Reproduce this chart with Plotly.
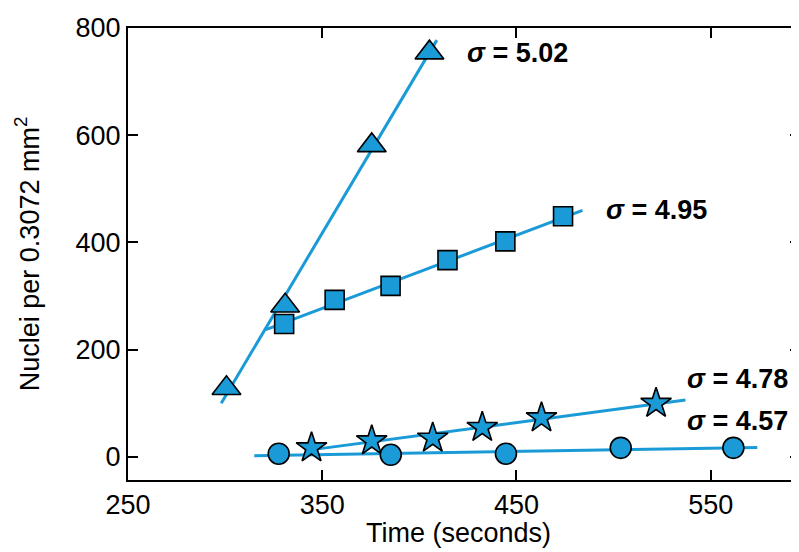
import numpy as np
import plotly.graph_objects as go

# ---- data ----
tri_x = [300.7, 330.9, 375.5, 405.2]
tri_y = [128, 282, 581, 754]
sq_x = [330.4, 356.4, 385.2, 414.5, 444.3, 474.0]
sq_y = [248, 293, 319, 367, 402, 449]
star_x = [344.5, 375.5, 406.9, 432.4, 462.9, 521.9]
star_y = [17, 30, 35, 55, 73, 100]
circ_x = [327.6, 385.3, 444.6, 503.7, 561.7]
circ_y = [6, 4, 6, 17, 17]

# extent of each fitted line (seconds)
tri_fit_span = [298, 409]
sq_fit_span = [321, 484]
star_fit_span = [344, 537]
circ_fit_span = [315, 574]

sigma_labels = ["<i>σ</i> = 5.02", "<i>σ</i> = 4.95", "<i>σ</i> = 4.78", "<i>σ</i> = 4.57"]
x_ticks = [250, 350, 450, 550]
y_ticks = [0, 200, 400, 600, 800]

BLUE = "#1a9bd7"
FONT = "Liberation Sans"
FS = 27

fig = go.Figure()

series = [
    (tri_x, tri_y, tri_fit_span, "triangle-up", 25),
    (sq_x, sq_y, sq_fit_span, "square", 19),
    (star_x, star_y, star_fit_span, "star", 23),
    (circ_x, circ_y, circ_fit_span, "circle", 21),
]

# fit lines first (beneath markers)
for xs, ys, span, sym, size in series:
    m, b = np.polyfit(xs, ys, 1)
    fx = np.array(span, dtype=float)
    fig.add_trace(go.Scatter(x=fx, y=m * fx + b, mode="lines",
                             line=dict(color=BLUE, width=3),
                             showlegend=False, hoverinfo="skip"))

for xs, ys, span, sym, size in series:
    fig.add_trace(go.Scatter(x=xs, y=ys, mode="markers",
                             marker=dict(symbol=sym, size=size, color=BLUE,
                                         line=dict(color="black", width=1.6)),
                             showlegend=False))

# sigma labels
label_pos = [(0.580, 0.945), (0.786, 0.598), (0.907, 0.224), (0.907, 0.130)]
for txt, (xp, yp) in zip(sigma_labels, label_pos):
    fig.add_annotation(x=xp, y=yp, xref="paper", yref="paper", text="<b>" + txt + "</b>",
                       showarrow=False, xanchor="center", yanchor="middle",
                       font=dict(family=FONT, size=FS, color="black"))

# axis titles
fig.add_annotation(x=0.492, y=-0.080, xref="paper", yref="paper", text="Time (seconds)",
                   showarrow=False, xanchor="center", yanchor="top",
                   font=dict(family=FONT, size=FS, color="black"))
fig.add_annotation(x=-0.150, y=0.5, xref="paper", yref="paper",
                   text="Nuclei per 0.3072 mm<sup>2</sup>", textangle=-90,
                   showarrow=False, xanchor="center", yanchor="middle",
                   font=dict(family=FONT, size=FS, color="black"))

axis_common = dict(showgrid=False, zeroline=False, showline=True, linecolor="black",
                   linewidth=2, mirror="allticks", ticks="inside", ticklen=10,
                   tickwidth=2, tickcolor="black",
                   tickfont=dict(family=FONT, size=FS, color="black"))

fig.update_layout(
    width=799, height=552,
    margin=dict(l=120, r=5, t=17, b=80),
    paper_bgcolor="white", plot_bgcolor="white",
    xaxis=dict(range=[250, 596], tickvals=x_ticks, **axis_common),
    yaxis=dict(range=[-43, 800], tickvals=y_ticks, **axis_common),
    showlegend=False,
)

fig.write_html("out.html")
